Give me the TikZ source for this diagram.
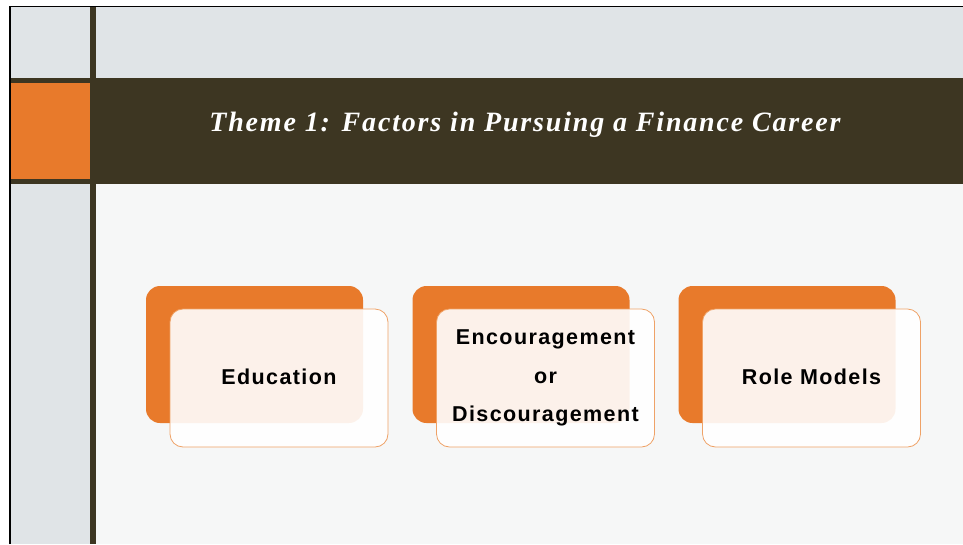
\documentclass[tikz,border=0pt]{standalone}
\usepackage{fontspec}
\setmainfont{Liberation Serif}
\newfontfamily\titlefont[LetterSpace=6.5]{Liberation Serif}
\newfontfamily\cardfont[LetterSpace=6.5]{Liberation Sans}
\definecolor{slidegray}{HTML}{E0E4E7}
\definecolor{slidepale}{HTML}{F6F7F7}
\definecolor{bandbrown}{HTML}{3D3622}
\definecolor{accent}{HTML}{E87A2B}
\definecolor{cardline}{HTML}{EFA267}
\begin{document}
\begin{tikzpicture}[x=1pt,y=-1pt,
  backcard/.style={fill=accent, rounded corners=14pt, minimum width=217pt,
    minimum height=137pt, inner sep=0pt},
  frontcard/.style={fill=white, fill opacity=0.9, text opacity=1,
    draw=cardline, line width=0.8pt, rounded corners=13pt,
    minimum width=218pt, minimum height=138pt, inner sep=0pt,
    align=center, font={\cardfont\bfseries\fontsize{21.5}{38.5}\selectfont}}]
\useasboundingbox (0,0) rectangle (963,544);
\fill[white] (0,0) rectangle (963,544);
% slide panels
\fill[slidegray] (10,7) rectangle (963,544);
\fill[slidepale] (96,184) rectangle (963,544);
% vertical divider
\fill[bandbrown] (90,7) rectangle (96,544);
% title band with orange tab
\fill[bandbrown] (10,78) rectangle (963,184);
\fill[accent] (10.7,83) rectangle (90,179);
% slide frame
\draw[black, line width=1.6pt] (9.8,544) -- (9.8,6.6) -- (963,6.6);
\node[text=white, font={\titlefont\bfseries\itshape\fontsize{28}{32}\selectfont}]
  (title) at (525,124.5) {Theme 1: Factors in Pursuing a Finance Career};
% cards
\node[backcard] (edback) at (254.5,354.5) {};
\node[frontcard] (edfront) at (279,378) {\raisebox{2pt}{Education}};
\node[backcard] (encback) at (521,354.5) {};
\node[frontcard] (encfront) at (545.5,378) {Encouragement\\or\\Discouragement};
\node[backcard] (roleback) at (787,354.5) {};
\node[frontcard] (rolefront) at (811.5,378) {\raisebox{2pt}{Role Models}};
\end{tikzpicture}
\end{document}
